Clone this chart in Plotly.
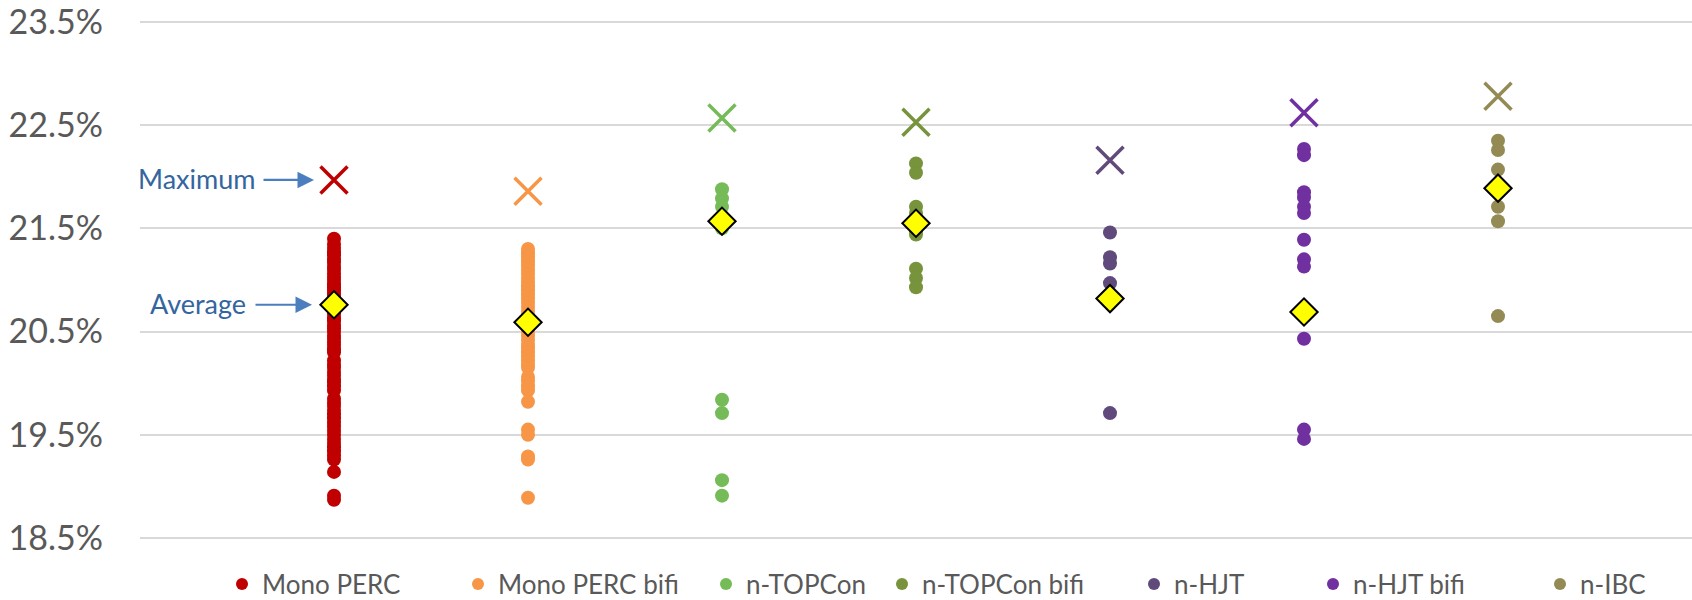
import plotly.graph_objects as go

categories = ["Mono PERC", "Mono PERC bifi", "n-TOPCon", "n-TOPCon bifi", "n-HJT", "n-HJT bifi", "n-IBC"]
colors = ["#c00000", "#f79646", "#75bb57", "#77933c", "#604a7b", "#7030a0", "#948a54"]

mono_perc = [21.40, 21.35, 21.31, 21.27, 21.24, 21.20, 21.17, 21.13, 21.10, 21.06, 21.03, 21.00,
             20.96, 20.93, 20.90, 20.87, 20.84, 20.80, 20.77, 20.74, 20.70, 20.67, 20.63, 20.60,
             20.56, 20.53, 20.50, 20.46, 20.43, 20.40, 20.37, 20.33, 20.30, 20.22, 20.18, 20.15,
             20.11, 20.08, 20.04, 20.01, 19.97, 19.93, 19.85, 19.81, 19.78, 19.74, 19.70, 19.66,
             19.62, 19.58, 19.54, 19.50, 19.46, 19.42, 19.38, 19.34, 19.30, 19.26, 19.14, 18.91, 18.87]
mono_perc_bifi = [21.30, 21.26, 21.22, 21.18, 21.14, 21.10, 21.06, 21.02, 20.98, 20.94, 20.90, 20.86,
                  20.82, 20.78, 20.74, 20.70, 20.66, 20.62, 20.58, 20.54, 20.50, 20.46, 20.42, 20.38,
                  20.34, 20.30, 20.26, 20.22, 20.18, 20.15, 20.06, 20.02, 19.97, 19.93, 19.82, 19.55,
                  19.50, 19.29, 19.26, 18.89]
n_topcon = [21.88, 21.79, 21.71, 21.62, 21.54, 21.50, 19.84, 19.71, 19.06, 18.91]
n_topcon_bifi = [22.13, 22.04, 21.71, 21.65, 21.57, 21.47, 21.44, 21.11, 21.02, 20.93]
n_hjt = [21.46, 21.22, 21.16, 20.97, 20.78, 19.71]
n_hjt_bifi = [22.27, 22.21, 21.85, 21.80, 21.71, 21.65, 21.39, 21.20, 21.13, 20.43, 19.55, 19.46]
n_ibc = [22.35, 22.26, 22.07, 21.71, 21.57, 20.65]

series = [mono_perc, mono_perc_bifi, n_topcon, n_topcon_bifi, n_hjt, n_hjt_bifi, n_ibc]
maximum = [21.97, 21.86, 22.57, 22.53, 22.16, 22.62, 22.78]
average = [20.76, 20.59, 21.57, 21.55, 20.82, 20.69, 21.89]
positions = [1, 2, 3, 4, 5, 6, 7]

y_ticks = [18.5, 19.5, 20.5, 21.5, 22.5, 23.5]

FONT = "Lato"
W, H = 1692, 600
ML, MR, MT, MB = 140, 0, 20, 60

# legend dot centres (px) for each entry
legend_dot_px = [239, 475, 723, 899, 1151, 1330, 1557]
LEGEND_Y_PX = 584

fig = go.Figure()
for i, (name, vals) in enumerate(zip(categories, series)):
    lg = "legend" if i == 0 else f"legend{i+1}"
    fig.add_trace(go.Scatter(
        x=[positions[i]] * len(vals), y=vals, mode="markers", name=name,
        marker=dict(color=colors[i], size=14, line=dict(width=0)),
        legend=lg,
    ))

fig.add_trace(go.Scatter(
    x=positions, y=maximum, mode="markers", name="Maximum", showlegend=False,
    marker=dict(symbol="x-thin", size=27, color=colors, line=dict(color=colors, width=3.5)),
))
fig.add_trace(go.Scatter(
    x=positions, y=average, mode="markers", name="Average", showlegend=False,
    marker=dict(symbol="diamond", size=21, color="#ffff00", line=dict(color="#000000", width=2)),
))

legends = {}
for i in range(len(categories)):
    key = "legend" if i == 0 else f"legend{i+1}"
    legends[key] = dict(
        xref="container", yref="container",
        x=(legend_dot_px[i] - 17) / W, xanchor="left",
        y=1 - LEGEND_Y_PX / H, yanchor="middle",
        orientation="h", bgcolor="rgba(0,0,0,0)", borderwidth=0,
        font=dict(family=FONT, size=26, color="#595959"),
        itemsizing="constant",
    )

TEXT_BLUE = "#34659f"
ARROW_BLUE = "#4a7ebf"
annotations = [
    dict(x=positions[0], y=maximum[0], xref="x", yref="y", text="", showarrow=True,
         ax=-72, ay=0, axref="pixel", ayref="pixel", arrowhead=2, arrowsize=1.5, arrowwidth=2.2,
         arrowcolor=ARROW_BLUE, standoff=20),
    dict(x=positions[0], y=maximum[0], xref="x", yref="y", text="Maximum", showarrow=False,
         xanchor="right", yanchor="middle", xshift=-77, yshift=1,
         font=dict(family=FONT, size=27, color=TEXT_BLUE)),
    dict(x=positions[0], y=average[0], xref="x", yref="y", text="", showarrow=True,
         ax=-80, ay=0, axref="pixel", ayref="pixel", arrowhead=2, arrowsize=1.5, arrowwidth=2.2,
         arrowcolor=ARROW_BLUE, standoff=22),
    dict(x=positions[0], y=average[0], xref="x", yref="y", text="Average", showarrow=False,
         xanchor="right", yanchor="middle", xshift=-86, yshift=1,
         font=dict(family=FONT, size=27, color=TEXT_BLUE)),
]

fig.update_layout(
    width=W, height=H,
    margin=dict(l=ML, r=MR, t=MT, b=MB, pad=0, autoexpand=False),
    paper_bgcolor="white", plot_bgcolor="white",
    showlegend=True,
    annotations=annotations,
    xaxis=dict(range=[0, 8], visible=False, showgrid=False, zeroline=False, automargin=False),
    yaxis=dict(range=[18.48, 23.52], tickvals=y_ticks, ticktext=[f"{v:.1f}%" for v in y_ticks],
               showgrid=True, gridcolor="#d9d9d9", gridwidth=1.5, zeroline=False,
               showline=False, ticks="", ticklabelstandoff=36, automargin=False,
               ticklabeloverflow="allow",
               tickfont=dict(family=FONT, size=34, color="#595959")),
    **legends,
)

fig.write_html("out.html", config={"displayModeBar": False},
               post_script="document.body.style.margin='0';document.body.style.overflow='hidden';")
